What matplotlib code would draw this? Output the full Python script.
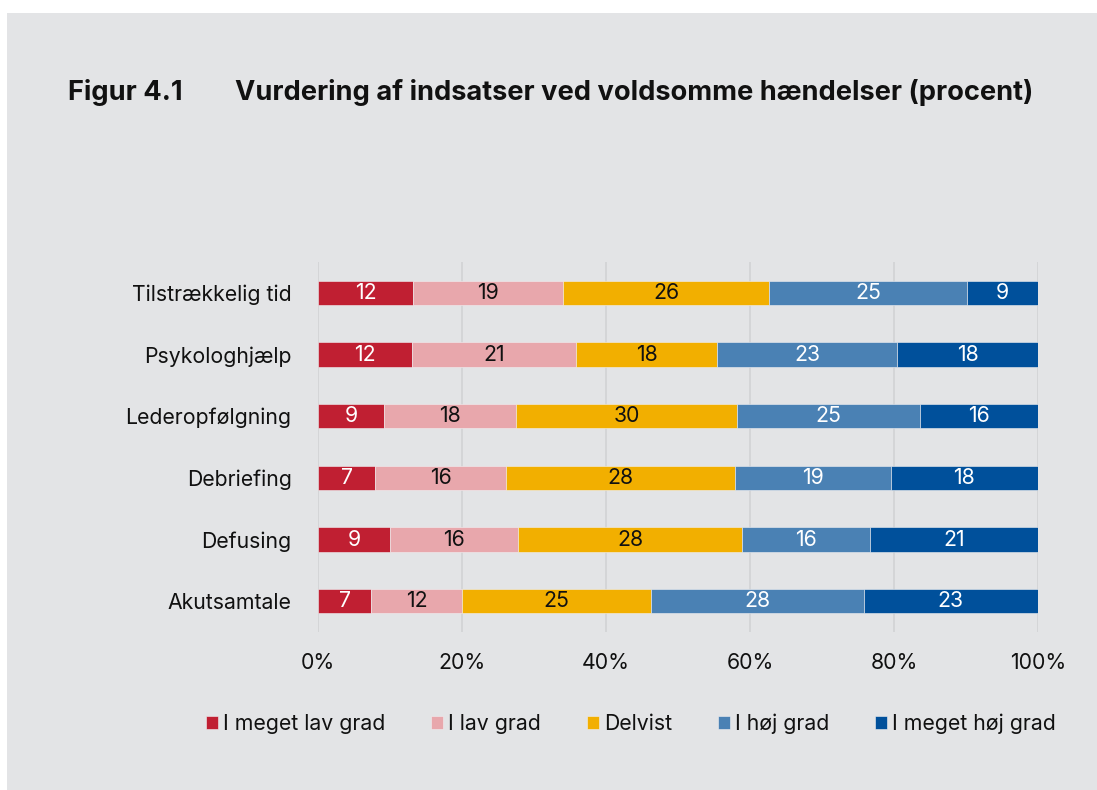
import matplotlib
matplotlib.use("Agg")
import matplotlib.pyplot as plt
from matplotlib.patches import Rectangle
import numpy as np

plt.rcParams["font.family"] = ["Inter", "DejaVu Sans"]

# data (rows top to bottom as in the figure)
categories = ["Tilstrækkelig tid", "Psykologhjælp", "Lederopfølgning",
              "Debriefing", "Defusing", "Akutsamtale"]
series_names = ["I meget lav grad", "I lav grad", "Delvist",
                "I høj grad", "I meget høj grad"]
meget_lav = [12, 12, 9, 7, 9, 7]
lav = [19, 21, 18, 16, 16, 12]
delvist = [26, 18, 30, 28, 28, 25]
hoej = [25, 23, 25, 19, 16, 28]
meget_hoej = [9, 18, 16, 18, 21, 23]

colors = ["#c01f32", "#e8a7ac", "#f2af00", "#4a81b4", "#00509b"]
text_colors = ["white", "#111111", "#111111", "white", "white"]
bg = "#e3e4e6"
fs = 15.3

fig = plt.figure(figsize=(10.97, 7.90), dpi=100)
fig.patch.set_facecolor("white")
fig.patches.append(Rectangle((7 / 1097, 0), 1, (790 - 13) / 790,
                             transform=fig.transFigure, facecolor=bg,
                             edgecolor="none", zorder=-10))

ax = fig.add_axes([318 / 1097, (790 - 632) / 790, 720 / 1097, 370 / 790])
ax.set_facecolor("none")

data = np.array([meget_lav, lav, delvist, hoej, meget_hoej], dtype=float)
totals = data.sum(axis=0)
shares = data / totals * 100

y = np.arange(len(categories))
left = np.zeros(len(categories))
for k in range(len(series_names)):
    ax.barh(y, shares[k], left=left, height=0.39, color=colors[k],
            label=series_names[k], edgecolor="#f0f0f2", linewidth=0.4, zorder=3)
    for i in range(len(categories)):
        ax.text(left[i] + shares[k][i] / 2, y[i], "%d" % data[k][i],
                ha="center", va="center", fontsize=fs, color=text_colors[k],
                zorder=4)
    left = left + shares[k]

ax.set_xlim(0, 100)
ax.set_ylim(len(categories) - 0.5, -0.5)
ax.set_xticks(np.arange(0, 101, 20))
ax.set_xticklabels(["%d%%" % v for v in range(0, 101, 20)])
ax.set_yticks(y)
ax.set_yticklabels(categories)
ax.tick_params(axis="x", length=0, pad=15, labelsize=fs, colors="#111111")
ax.tick_params(axis="y", length=0, pad=19, labelsize=fs, colors="#111111")
ax.grid(axis="x", color="#d2d3d5", linewidth=1.2, zorder=0)
for s in ax.spines.values():
    s.set_visible(False)

fig.text(68 / 1097, (790 - 92) / 790, "Figur 4.1", fontsize=19.6,
         fontweight="bold", va="center", ha="left", color="#111111")
fig.text(235 / 1097, (790 - 92) / 790,
         "Vurdering af indsatser ved voldsomme hændelser (procent)",
         fontsize=19.6, fontweight="bold", va="center", ha="left", color="#111111")

fig.legend(loc="center", bbox_to_anchor=(631 / 1097, (790 - 724) / 790),
           ncol=5, frameon=False, fontsize=fs, handlelength=0.565,
           handleheight=0.565, handletextpad=0.24, columnspacing=2.16,
           borderpad=0, labelcolor="#111111")

fig.savefig("out.png", dpi=100, facecolor=fig.get_facecolor())
